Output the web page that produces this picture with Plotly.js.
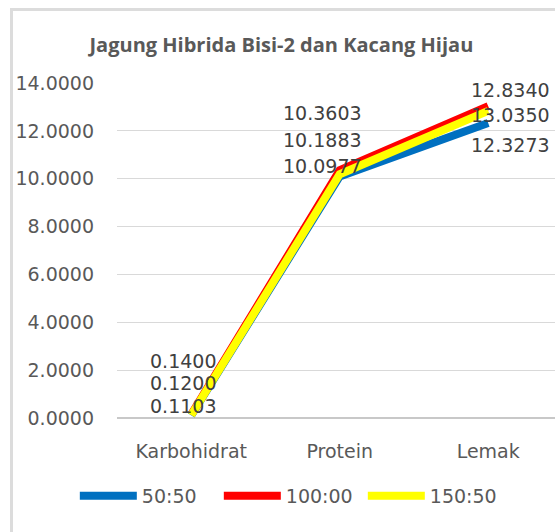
<!DOCTYPE html>
<html>
<head>
<meta charset="utf-8">
<script src="https://cdn.plot.ly/plotly-3.0.1.min.js"></script>
<style>
  html, body { margin: 0; padding: 0; background: #fff; overflow: hidden; }
  #chart { width: 555px; height: 532px; }
  #frame { position: absolute; left: 10px; top: 8px; width: 600px; height: 600px;
           border: 3px solid #dcdcdc; pointer-events: none; box-sizing: border-box; }
</style>
</head>
<body>
<div id="chart"></div>
<div id="frame"></div>
<script>
// ---- data ----
const categories = ["Karbohidrat", "Protein", "Lemak"];
const seriesNames = ["50:50", "100:00", "150:50"];
const values5050 = [0.1103, 10.0977, 12.3273];
const values10000 = [0.1400, 10.3603, 13.0350];
const values15050 = [0.1200, 10.1883, 12.8340];
const yTickValues = [0, 2, 4, 6, 8, 10, 12, 14];

// ---- style ----
const colors = ["#0070C0", "#FF0000", "#FFFF00"];
const allValues = [values5050, values10000, values15050];
const FONT = "'DejaVu Sans', sans-serif";
const TITLE_FONT = "'Open Sans', 'Noto Sans', sans-serif";
// label offsets in px per series, per category
const labelYShift = [[9, 10, -22], [54, 57, -9], [32, 34, 21]];
const labelXShift = [-8, -17, 22];

const traces = allValues.map((vals, i) => ({
  type: "scatter",
  mode: "lines",
  x: categories,
  y: vals,
  name: seriesNames[i],
  line: { color: colors[i], width: 8 },
  hoverinfo: "x+y+name"
}));

const annotations = [];
allValues.forEach((vals, i) => {
  vals.forEach((v, j) => {
    annotations.push({
      x: categories[j], y: v, xref: "x", yref: "y",
      text: v.toFixed(4), showarrow: false,
      xshift: labelXShift[j], yshift: labelYShift[i][j],
      font: { family: FONT, size: 19, color: "#404040" }
    });
  });
});

const layout = {
  width: 555, height: 532,
  margin: { l: 117, r: 0, t: 83, b: 114 },
  paper_bgcolor: "#fff", plot_bgcolor: "#fff",
  title: {
    text: "<b>Jagung Hibrida Bisi-2 dan Kacang Hijau</b>",
    font: { family: TITLE_FONT, size: 20, color: "#595959" },
    x: 0.507, xref: "container", xanchor: "center",
    y: 0.915, yref: "container", yanchor: "middle"
  },
  xaxis: {
    type: "category",
    range: [-0.5, 2.45],
    showgrid: false, zeroline: false, showline: false,
    ticks: "", ticklabelstandoff: 20,
    tickfont: { family: FONT, size: 19, color: "#595959" },
    fixedrange: true
  },
  yaxis: {
    range: [0, 14],
    tickvals: yTickValues,
    ticktext: yTickValues.map(v => v.toFixed(4)),
    showgrid: true, gridcolor: "#d9d9d9", gridwidth: 1,
    zeroline: true, zerolinecolor: "#c8c8c8", zerolinewidth: 2,
    showline: false, ticks: "", ticklabelstandoff: 22,
    tickfont: { family: FONT, size: 19, color: "#595959" },
    fixedrange: true
  },
  showlegend: true,
  legend: {
    orientation: "h",
    xref: "container", x: 0.524, xanchor: "center",
    yref: "container", y: 0.068, yanchor: "middle",
    font: { family: FONT, size: 19, color: "#595959" },
    itemwidth: 57,
    entrywidth: 72,
    traceorder: "normal"
  },
  annotations: annotations
};

Plotly.newPlot("chart", traces, layout, { displayModeBar: false, staticPlot: true });
</script>
</body>
</html>
